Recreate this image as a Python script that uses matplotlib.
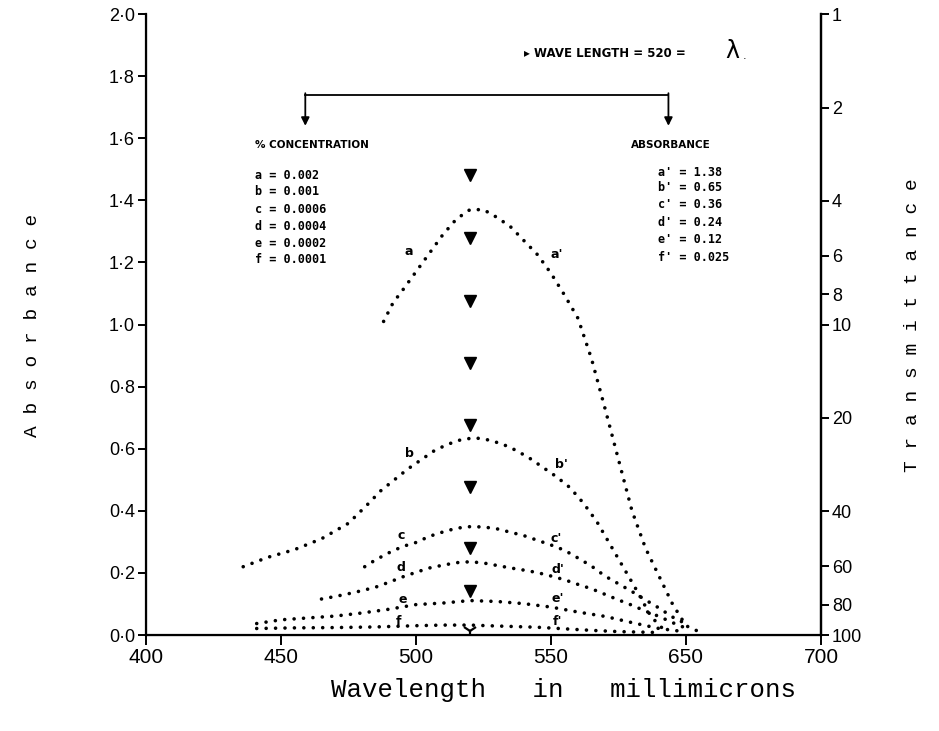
import numpy as np
import matplotlib
matplotlib.use("Agg")
import matplotlib.pyplot as plt

# absorbance curves (wavelength in nm, absorbance)
a_x = [488, 491.5, 495, 500, 505, 510, 515, 520, 525, 530, 535, 540, 545, 550, 555,
       560, 565, 570, 575, 580, 585, 590, 595, 600, 605]
a_y = [1.01, 1.07, 1.11, 1.17, 1.23, 1.29, 1.34, 1.37, 1.37, 1.345, 1.315, 1.27, 1.225,
       1.165, 1.095, 1.02, 0.89, 0.73, 0.565, 0.40, 0.28, 0.19, 0.10, 0.03, 0.01]

b_x = [436, 445, 455, 465, 475, 482, 487, 492, 497, 502, 507, 512, 517, 522, 527, 532,
       537, 542, 547, 552, 557, 562, 567, 572, 577, 582, 587, 592]
b_y = [0.22, 0.25, 0.275, 0.31, 0.36, 0.42, 0.465, 0.50, 0.535, 0.565, 0.595, 0.615,
       0.63, 0.635, 0.628, 0.615, 0.595, 0.57, 0.54, 0.51, 0.475, 0.425, 0.365, 0.29,
       0.215, 0.14, 0.06, 0.015]

c_x = [481, 485, 490, 495, 500, 505, 510, 515, 520, 525, 530, 535, 540, 545, 550, 555,
       560, 565, 570, 575, 580, 585, 590, 595, 600]
c_y = [0.22, 0.242, 0.265, 0.285, 0.298, 0.318, 0.332, 0.344, 0.349, 0.348, 0.342,
       0.331, 0.32, 0.305, 0.29, 0.273, 0.248, 0.222, 0.19, 0.165, 0.14, 0.113, 0.087,
       0.058, 0.036]

d_x = [465, 470, 475, 480, 485, 490, 495, 500, 505, 510, 515, 520, 525, 530, 535, 540,
       545, 550, 555, 560, 565, 570, 575, 580, 585, 590, 595, 600]
d_y = [0.116, 0.124, 0.133, 0.143, 0.154, 0.17, 0.187, 0.202, 0.216, 0.225, 0.233,
       0.236, 0.232, 0.224, 0.216, 0.209, 0.201, 0.19, 0.178, 0.163, 0.149, 0.131,
       0.113, 0.096, 0.077, 0.06, 0.04, 0.022]

e_x = [441, 450, 460, 470, 480, 490, 500, 510, 520, 530, 540, 550, 560, 570, 580, 590, 600]
e_y = [0.037, 0.049, 0.055, 0.061, 0.071, 0.083, 0.098, 0.103, 0.111, 0.108, 0.101,
       0.09, 0.074, 0.06, 0.04, 0.021, 0.01]

f_x = [441, 455, 470, 485, 500, 510, 520, 530, 545, 555, 565, 575, 590]
f_y = [0.021, 0.023, 0.024, 0.026, 0.03, 0.032, 0.032, 0.029, 0.025, 0.02, 0.015,
       0.011, 0.008]

curves = [(a_x, a_y), (b_x, b_y), (c_x, c_y), (d_x, d_y), (e_x, e_y), (f_x, f_y)]

# curve labels: (text, x, y)
curve_labels = [("a", 497.5, 1.235), ("a'", 552, 1.225),
                ("b", 497.5, 0.585), ("b'", 554, 0.548),
                ("c", 494.5, 0.32), ("c'", 552, 0.312),
                ("d", 494.5, 0.218), ("d'", 552.5, 0.21),
                ("e", 495, 0.116), ("e'", 552.5, 0.118),
                ("f", 493.5, 0.044), ("f'", 552.5, 0.042)]

# arrow markers at 520 nm
peak_wl = 520
arrow_levels = [1.48, 1.28, 1.075, 0.875, 0.676, 0.478, 0.279, 0.142]

# legends
conc_letters = ["a", "b", "c", "d", "e", "f"]
conc_values = ["0.002", "0.001", "0.0006", "0.0004", "0.0002", "0.0001"]
abs_values = ["1.38", "0.65", "0.36", "0.24", "0.12", "0.025"]

# axes ticks
y_ticks = [0.0, 0.2, 0.4, 0.6, 0.8, 1.0, 1.2, 1.4, 1.6, 1.8, 2.0]
y_labels = ["0·0", "0·2", "0·4", "0·6", "0·8", "1·0", "1·2", "1·4", "1·6", "1·8", "2·0"]
x_ticks = [400, 450, 500, 550, 600, 650]
x_labels = ["400", "450", "500", "550", "650", "700"]
trans_values = [1, 2, 4, 6, 8, 10, 20, 40, 60, 80, 100]

fig = plt.figure(figsize=(9.39, 7.31), dpi=100)
ax = fig.add_axes([0.1555, 0.1313, 0.7188, 0.8495])

dot_style = dict(color="black", lw=2.6, linestyle=(0, (0.01, 2.6)),
                 dash_capstyle="round")
for cx, cy in curves:
    ax.plot(cx, cy, **dot_style)

for txt, tx, ty in curve_labels:
    ax.text(tx, ty, txt, fontsize=9, fontweight="bold", family="DejaVu Sans",
            ha="center", va="center")

ax.plot([peak_wl] * len(arrow_levels), arrow_levels, linestyle="none",
        marker="v", markersize=8, color="black")
ax.plot([peak_wl], [0.012], linestyle="none", marker="1", markersize=11,
        markeredgewidth=1.6, color="black")

ax.set_xlim(400, 650)
ax.set_ylim(0, 2.0)
ax.set_xticks(x_ticks)
ax.set_xticklabels(x_labels)
ax.set_yticks(y_ticks)
ax.set_yticklabels(y_labels)
for lbl in ax.get_xticklabels():
    lbl.set_fontsize(15)
    lbl.set_family("Liberation Sans")
for lbl in ax.get_yticklabels():
    lbl.set_fontsize(13)
    lbl.set_family("Liberation Sans")
ax.tick_params(axis="x", direction="out", length=7, width=1.4, pad=2)
ax.tick_params(axis="y", direction="out", length=6, width=1.4, pad=2)
ax.spines["top"].set_visible(False)
for s in ["left", "bottom", "right"]:
    ax.spines[s].set_linewidth(1.6)

# transmittance scale on the right
ax2 = ax.twinx()
ax2.set_ylim(0, 2.0)
ax2.set_yticks([2 - np.log10(t) for t in trans_values])
ax2.set_yticklabels([str(t) for t in trans_values])
for lbl in ax2.get_yticklabels():
    lbl.set_fontsize(13)
    lbl.set_family("Liberation Sans")
ax2.tick_params(axis="y", direction="out", length=6, width=1.4, pad=2)
ax2.spines["top"].set_visible(False)
ax2.spines["right"].set_linewidth(1.6)

# axis titles
fig.text(0.035, 0.555, "A b s o r b a n c e", rotation=90, fontsize=14,
         family="Liberation Mono", ha="center", va="center")
fig.text(0.972, 0.555, "T r a n s m i t t a n c e", rotation=90, fontsize=14,
         family="Liberation Mono", ha="center", va="center")
fig.text(0.60, 0.056, "Wavelength   in   millimicrons", fontsize=18.5,
         family="Liberation Mono", ha="center", va="center")

# bracket with arrows
ax.plot([459, 593.5], [1.74, 1.74], color="black", lw=1.3)
for bx in [459, 593.5]:
    ax.annotate("", xy=(bx, 1.64), xytext=(bx, 1.745),
                arrowprops=dict(arrowstyle="-|>", color="black", lw=1.3,
                                mutation_scale=12, shrinkA=0, shrinkB=0))

# top annotation
ax.text(540, 1.874, "▸ WAVE LENGTH = 520 =", fontsize=8.5, fontweight="bold",
        family="DejaVu Sans", ha="left", va="center")
ax.text(617, 1.88, "λ", fontsize=17, family="DejaVu Sans", ha="center", va="center")
ax.text(621, 1.865, ".", fontsize=8, family="DejaVu Sans", ha="left", va="center")

# concentration legend
ax.text(440.5, 1.578, "% CONCENTRATION", fontsize=7.5, fontweight="bold",
        family="DejaVu Sans", ha="left", va="center")
row_y = [1.481, 1.427, 1.372, 1.317, 1.262, 1.211]
for i in range(6):
    ax.text(440.5, row_y[i], f"{conc_letters[i]} = {conc_values[i]}", fontsize=8.5,
            fontweight="bold", family="DejaVu Sans Mono", ha="left", va="center")

# absorbance legend
ax.text(579.5, 1.578, "ABSORBANCE", fontsize=7.5, fontweight="bold",
        family="DejaVu Sans", ha="left", va="center")
row_y2 = [1.491, 1.44, 1.385, 1.327, 1.275, 1.217]
for i in range(6):
    ax.text(589.5, row_y2[i], f"{conc_letters[i]}' = {abs_values[i]}", fontsize=8.5,
            fontweight="bold", family="DejaVu Sans Mono", ha="left", va="center")

fig.savefig("out.png", dpi=100)
